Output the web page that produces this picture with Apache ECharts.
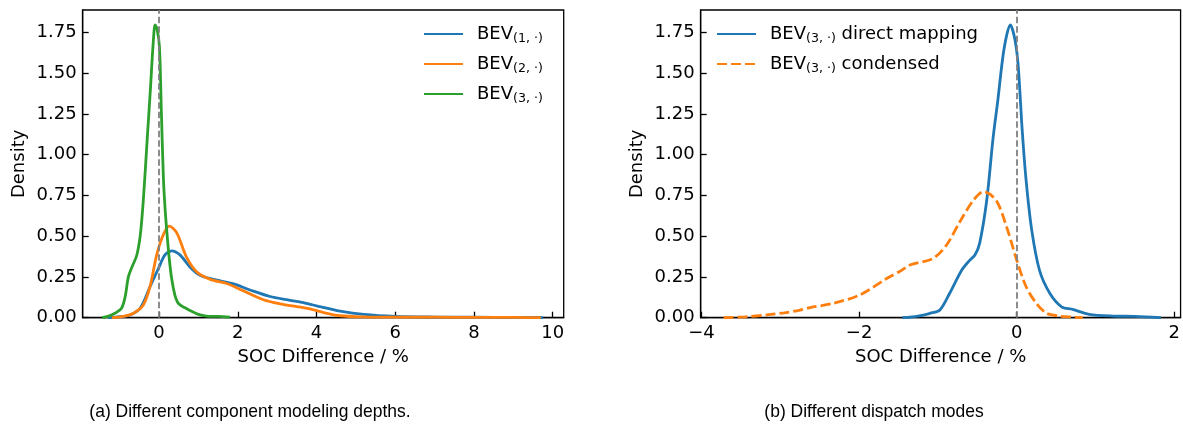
<!DOCTYPE html>
<html>
<head>
<meta charset="utf-8">
<script src="https://cdn.jsdelivr.net/npm/echarts@6/dist/echarts.min.js"></script>
<style>
html,body{margin:0;padding:0;background:#fff;}
#c{width:1183px;height:427px;}
</style>
</head>
<body>
<div id="c"></div>
<script>
// ---- Data ----
// Panel (a): KDE curves, [SOC difference %, density]
const bev1X = [-1.3,-1.0,-0.74,-0.48,-0.23,-0.02,0.15,0.32,0.53,0.79,1.04,1.38,1.89,2.31,2.82,3.3,3.8,4.0,4.2,4.6,5.2,6.0,7.0,8.0,9.0,9.76];
const bev1Y = [0.0,0.006,0.017,0.058,0.19,0.30,0.385,0.41,0.385,0.31,0.26,0.235,0.207,0.17,0.13,0.108,0.085,0.072,0.062,0.04,0.02,0.008,0.004,0.003,0.002,0.0];
const bev2X = [-1.2,-0.9,-0.65,-0.40,-0.23,-0.06,0.11,0.26,0.45,0.70,0.96,1.30,1.72,2.14,2.65,3.07,3.5,3.9,4.2,4.6,5.2,6.0,7.0,8.0,9.0,9.7];
const bev2Y = [0.0,0.008,0.027,0.078,0.19,0.385,0.51,0.562,0.52,0.37,0.28,0.235,0.21,0.165,0.11,0.085,0.068,0.05,0.03,0.012,0.005,0.003,0.003,0.002,0.002,0.0];
const bev3X = [-1.45,-1.3,-1.12,-0.95,-0.86,-0.78,-0.69,-0.57,-0.48,-0.40,-0.30,-0.22,-0.15,-0.10,-0.05,0.01,0.06,0.11,0.15,0.20,0.26,0.32,0.40,0.47,0.55,0.65,0.80,1.0,1.2,1.5,1.8];
const bev3Y = [0.0,0.008,0.027,0.06,0.13,0.25,0.31,0.38,0.50,0.72,1.10,1.40,1.68,1.795,1.77,1.66,1.25,0.86,0.68,0.52,0.36,0.24,0.14,0.095,0.075,0.062,0.042,0.02,0.01,0.008,0.003];
// Panel (b)
const directX = [-1.45,-1.25,-1.10,-0.975,-0.85,-0.70,-0.60,-0.53,-0.47,-0.38,-0.30,-0.24,-0.16,-0.08,-0.02,0.02,0.07,0.12,0.19,0.29,0.42,0.57,0.71,0.92,1.22,1.5,1.83];
const directY = [0.0,0.01,0.027,0.047,0.15,0.29,0.35,0.385,0.456,0.72,1.10,1.33,1.65,1.795,1.70,1.54,1.15,0.84,0.54,0.29,0.15,0.067,0.051,0.021,0.01,0.008,0.0];
const condX = [-3.72,-3.45,-3.17,-2.95,-2.75,-2.62,-2.33,-1.99,-1.65,-1.48,-1.355,-1.06,-0.89,-0.72,-0.55,-0.42,-0.26,-0.13,0.0,0.12,0.25,0.38,0.54,0.7,0.84];
const condY = [0.0,0.005,0.017,0.03,0.047,0.062,0.088,0.14,0.24,0.285,0.323,0.364,0.446,0.589,0.72,0.773,0.72,0.56,0.354,0.19,0.088,0.027,0.01,0.004,0.0];

// Ticks and labels
const xTicksA = [0,2,4,6,8,10];
const xTicksB = [-4,-2,0,2];
const yTicks = [0,0.25,0.5,0.75,1.0,1.25,1.5,1.75];
const legendA = [['BEV1','BEV','(1, \u00b7)',''],['BEV2','BEV','(2, \u00b7)',''],['BEV3','BEV','(3, \u00b7)','']];
const legendB = [['BEV3d','BEV','(3, \u00b7)',' direct mapping'],['BEV3c','BEV','(3, \u00b7)',' condensed']];
const xLabel = 'SOC Difference / %';
const yLabel = 'Density';
const captionA = '(a) Different component modeling depths.';
const captionB = '(b) Different dispatch modes';

const zip = (xs, ys) => xs.map((x, i) => [x, ys[i]]);
const FONT = 'DejaVu Sans';
const C1 = '#1f77b4', C2 = '#ff7f0e', C3 = '#2ca02c';
const fmt = v => (v < 0 ? '\u2212' + Math.abs(v) : String(v));

function xAxisCfg(idx, min, max, ticks) {
  return {
    type: 'value', gridIndex: idx, min: min, max: max,
    name: xLabel, nameLocation: 'middle', nameGap: 31,
    nameTextStyle: {fontFamily: FONT, fontSize: 18, color: '#000'},
    axisLine: {show: true, onZero: false, lineStyle: {color: '#000', width: 1.3}},
    axisTick: {show: true, inside: true, length: 6, customValues: ticks, lineStyle: {color: '#000', width: 1.3}},
    axisLabel: {show: true, customValues: ticks, formatter: fmt, margin: 7, fontFamily: FONT, fontSize: 18, color: '#000'},
    splitLine: {show: false}
  };
}
function yAxisCfg(idx) {
  return {
    type: 'value', gridIndex: idx, min: 0, max: 1.887,
    name: yLabel, nameLocation: 'middle', nameGap: 54, nameRotate: 90,
    nameTextStyle: {fontFamily: FONT, fontSize: 18, color: '#000'},
    axisLine: {show: true, onZero: false, lineStyle: {color: '#000', width: 1.3}},
    axisTick: {show: true, inside: true, length: 6, customValues: yTicks, lineStyle: {color: '#000', width: 1.3}},
    axisLabel: {show: true, customValues: yTicks, formatter: v => v.toFixed(2), margin: 6, fontFamily: FONT, fontSize: 18, color: '#000'},
    splitLine: {show: false}
  };
}
function curve(name, xi, data, color, dashed) {
  return {
    name: name, type: 'line', xAxisIndex: xi, yAxisIndex: xi, data: data,
    smooth: 0.3, symbol: 'none', showSymbol: false, silent: true,
    lineStyle: {color: color, width: 2.8, type: dashed ? [10, 4] : 'solid', cap: 'butt'},
    itemStyle: {color: color}, z: 3
  };
}
function zeroLine(xi) {
  return {
    type: 'line', xAxisIndex: xi, yAxisIndex: xi, data: [], silent: true,
    markLine: {silent: true, symbol: ['none', 'none'], label: {show: false},
      lineStyle: {color: '#808080', width: 1.8, type: [6.5, 3]},
      data: [{xAxis: 0}]}, z: 2
  };
}
function legendCfg(items, left) {
  const map = {};
  items.forEach(it => { map[it[0]] = '{g|}{n|' + it[1] + '}{s|' + it[2] + '}' + (it[3] ? '{n|' + it[3] + '}' : ''); });
  return {
    orient: 'vertical', left: left, top: 23, padding: 0, itemWidth: 39, itemHeight: 14, itemGap: 8,
    data: items.map(it => it[0]), selectedMode: false,
    itemStyle: {opacity: 0},
    formatter: name => map[name],
    textStyle: {fontFamily: FONT, fontSize: 18, color: '#000',
      rich: {
        g: {width: 9},
        n: {fontFamily: FONT, fontSize: 18, lineHeight: 22, color: '#000', verticalAlign: 'middle'},
        s: {fontFamily: FONT, fontSize: 12.6, lineHeight: 12.6, padding: [9, 0, 0, 0], color: '#000', verticalAlign: 'middle'}
      }}
  };
}

const chart = echarts.init(document.getElementById('c'), null, {renderer: 'canvas'});
chart.setOption({
  animation: false,
  backgroundColor: '#fff',
  grid: [
    {left: 82.7, top: 10, width: 481, height: 307.7, show: true, borderColor: '#000', borderWidth: 1.3, backgroundColor: 'transparent'},
    {left: 700.7, top: 10, width: 480.3, height: 307.7, show: true, borderColor: '#000', borderWidth: 1.3, backgroundColor: 'transparent'}
  ],
  xAxis: [xAxisCfg(0, -1.94, 10.28, xTicksA), xAxisCfg(1, -4.01, 2.08, xTicksB)],
  yAxis: [yAxisCfg(0), yAxisCfg(1)],
  legend: [legendCfg(legendA, 423), legendCfg(legendB, 716)],
  series: [
    zeroLine(0),
    curve('BEV1', 0, zip(bev1X, bev1Y), C1, false),
    curve('BEV2', 0, zip(bev2X, bev2Y), C2, false),
    curve('BEV3', 0, zip(bev3X, bev3Y), C3, false),
    zeroLine(1),
    curve('BEV3d', 1, zip(directX, directY), C1, false),
    curve('BEV3c', 1, zip(condX, condY), C2, true)
  ],
  graphic: [
    {type: 'text', x: 250, y: 412, scaleX: 0.92, silent: true,
      style: {text: captionA, x: 0, y: 0, align: 'center', verticalAlign: 'middle', font: '19px "Liberation Sans"', fill: '#000'}},
    {type: 'text', x: 874, y: 412, scaleX: 0.92, silent: true,
      style: {text: captionB, x: 0, y: 0, align: 'center', verticalAlign: 'middle', font: '19px "Liberation Sans"', fill: '#000'}}
  ]
});
</script>
</body>
</html>
